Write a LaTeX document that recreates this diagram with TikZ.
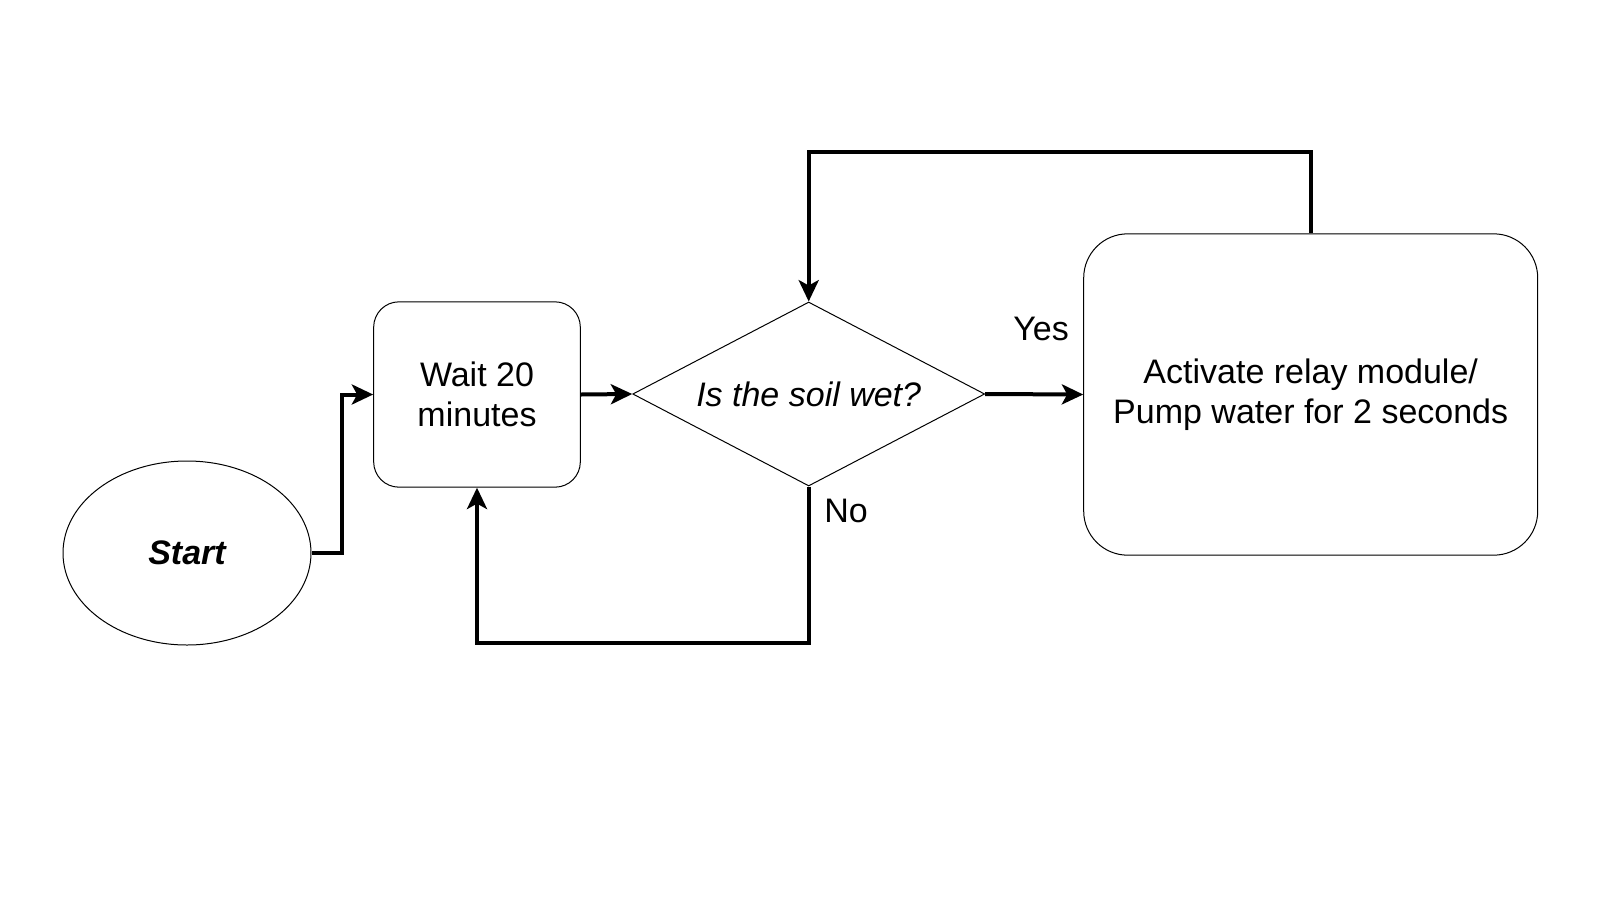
\documentclass[tikz,border=0pt]{standalone}
\usepackage{fontspec}
\setmainfont{Liberation Sans}
\usepackage{tikz}
\usetikzlibrary{arrows.meta,calc,shapes.geometric}
\tikzset{
  chart/.style={
    draw,
    line width=0.75pt,
    fill=white,
    align=center,
    inner sep=0pt,
    font=\fontsize{25.5pt}{30pt}\selectfont
  },
  flow/.style={-{Stealth[length=16pt,width=15pt,inset=4pt]}, line width=3pt},
  wire/.style={line width=3pt}
}

\begin{document}
\begin{tikzpicture}[
      x=0.75pt,
      y=-0.75pt,
      terminal/.style={chart, ellipse, minimum width=186pt, minimum height=138pt},
      process/.style={chart, rectangle, rounded corners=19pt, minimum width=155pt, minimum height=139pt},
      bigprocess/.style={chart, rectangle, rounded corners=33pt, minimum width=340.5pt, minimum height=241pt},
      decision/.style={chart, diamond, aspect=1.91, minimum width=264pt, minimum height=138pt},
      label/.style={font=\fontsize{25.5pt}{30pt}\selectfont, inner sep=0pt}
    ]
    \useasboundingbox (0,0) rectangle (1600,900);

    \node[terminal] (start) at (187,553) {\bfseries\itshape Start};
    \node[process] (wait) at (477,394.5) {Wait 20\\minutes};
    \node[decision] (soil) at (808.7,394) {\itshape Is the soil wet?};
    \node[bigprocess] (pump) at (1310.7,394.5)
      {Activate relay module/\\Pump water for 2 seconds};

    \node[label] (yes) at (1041,329) {Yes};
    \node[label] (no) at (846,511) {No};

    \draw[flow] (start.east) -| ($(start.east)!0.5!(wait.west)$) |- (wait.west);
    \draw[flow] (wait.east) -- (soil.west);
    \draw[flow] (soil.east) -- (pump.west);
    \draw[flow] (soil.south) -- ++(0,156.5) -| (wait.south);
    \draw[flow] (pump.north) -- ++(0,-81.5) -| (soil.north);
  \end{tikzpicture}
\end{document}
